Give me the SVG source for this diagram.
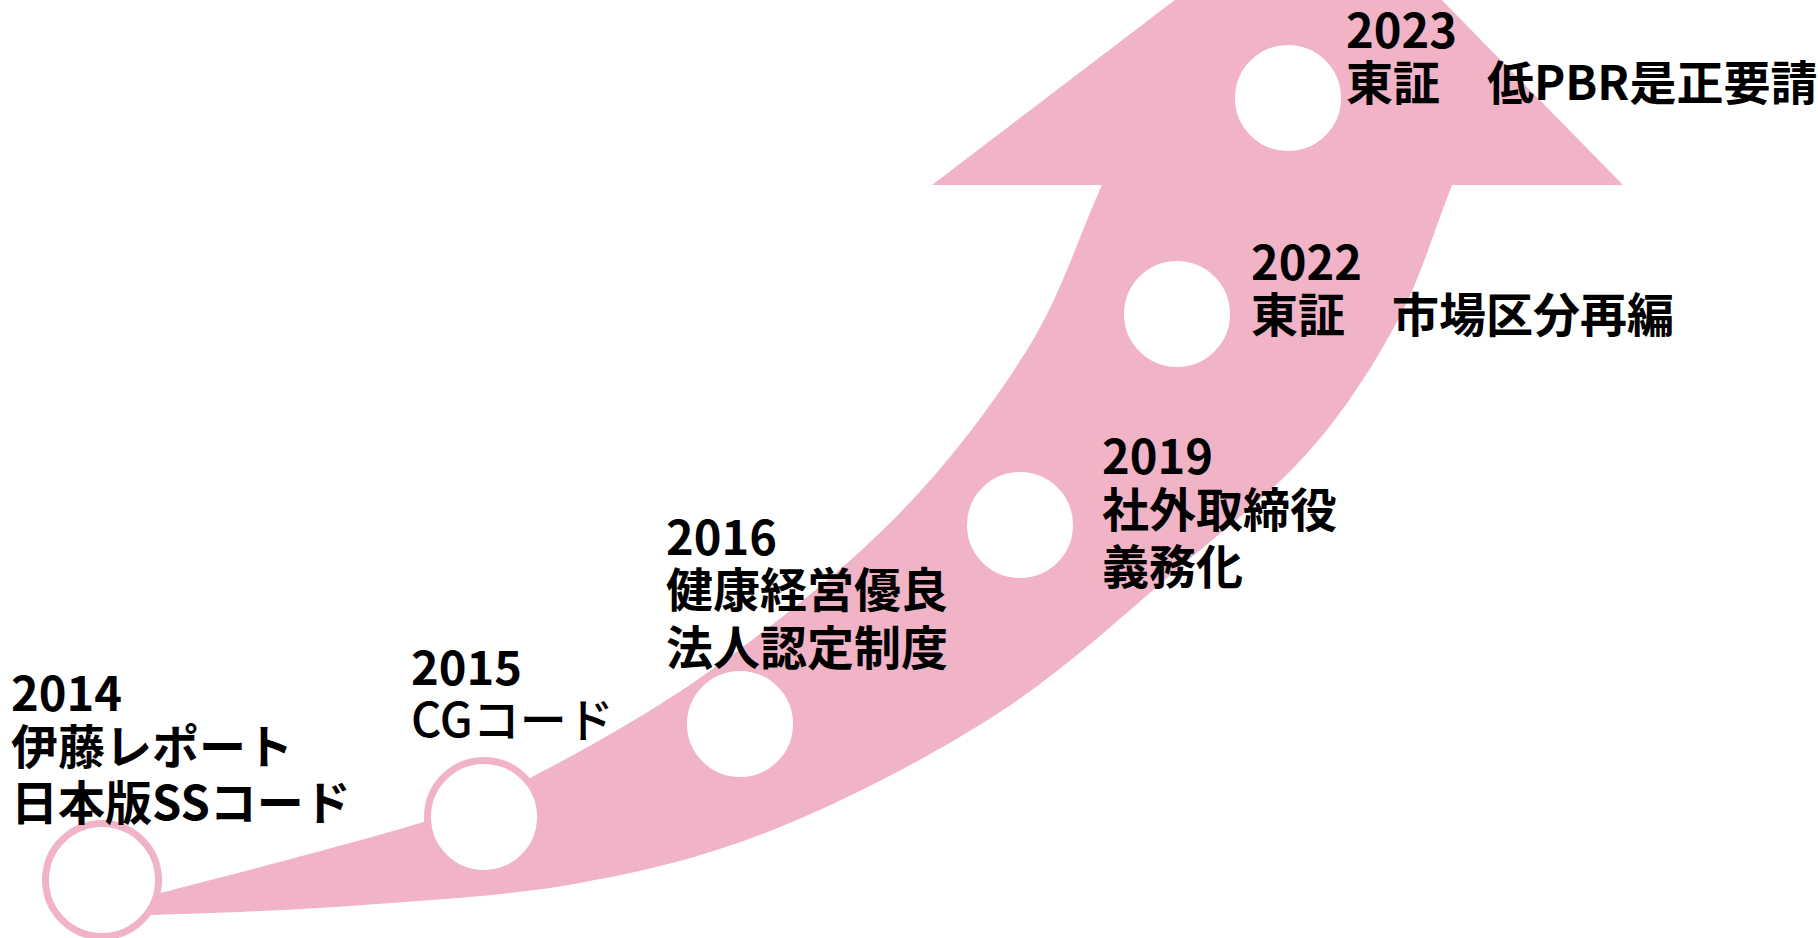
<svg xmlns="http://www.w3.org/2000/svg" width="1818" height="938" viewBox="0 0 1818 938">
<style>
.band{fill:#F1B3C6;stroke:none}
.dot{fill:#FFFFFF;stroke:#F1B3C6;stroke-width:7}
.lbl{font-family:"Noto Sans CJK JP","Noto Sans",sans-serif;font-weight:700;font-size:47px;fill:#000000}
.reg{font-weight:500}
</style>
<rect x="0" y="0" width="1818" height="938" fill="#FFFFFF"/>
<g id="connectors">
<path class="band" d="M932,185 L1188,-10 L1432,-10 L1623,185 L1452,185 C1434,230 1421.7,275.8 1398,320 C1374.3,364.2 1346.3,408.8 1310,450 C1273.7,491.2 1231.7,523.3 1180,567 C1128.3,610.7 1066.7,668.7 1000,712 C933.3,755.3 850,798.5 780,827 C710,855.5 651.7,869.8 580,883 C508.3,896.2 421.7,900.7 350,906 C278.3,911.3 191.7,913.3 150,915 L100,916 L100,906 L160,893 C213.3,879.2 358.3,842.2 420,823 C481.7,803.8 482.2,803 530,778 C577.8,753 646.5,716 707,673 C767.5,630 839.7,573.8 893,520 C946.3,466.2 992.2,405.8 1027,350 C1061.8,294.2 1077,240 1102,185 Z"/>
</g>
<g id="node-2014">
<circle class="dot" cx="102" cy="880" r="56.5"/>
<text class="lbl" x="11" y="711">2014<tspan x="11" y="764">伊藤レポート</tspan><tspan x="11" y="820">日本版SSコード</tspan></text>
</g>
<g id="node-2015">
<circle class="dot" cx="484" cy="817" r="56.5"/>
<text class="lbl" x="411" y="685">2015<tspan class="reg" x="411" y="737">CGコード</tspan></text>
</g>
<g id="node-2016">
<circle class="dot" cx="740" cy="724" r="56.5"/>
<text class="lbl" x="666" y="555">2016<tspan x="666" y="607">健康経営優良</tspan><tspan x="666" y="665">法人認定制度</tspan></text>
</g>
<g id="node-2019">
<circle class="dot" cx="1020" cy="525" r="56.5"/>
<text class="lbl" x="1102" y="474">2019<tspan x="1102" y="527">社外取締役</tspan><tspan x="1102" y="584">義務化</tspan></text>
</g>
<g id="node-2022">
<circle class="dot" cx="1177" cy="314" r="56.5"/>
<text class="lbl" x="1251" y="280">2022<tspan x="1251" y="332">東証　市場区分再編</tspan></text>
</g>
<g id="node-2023">
<circle class="dot" cx="1288" cy="98" r="56.5"/>
<text class="lbl" x="1346" y="48">2023<tspan x="1346" y="100">東証　低PBR是正要請</tspan></text>
</g>
</svg>
